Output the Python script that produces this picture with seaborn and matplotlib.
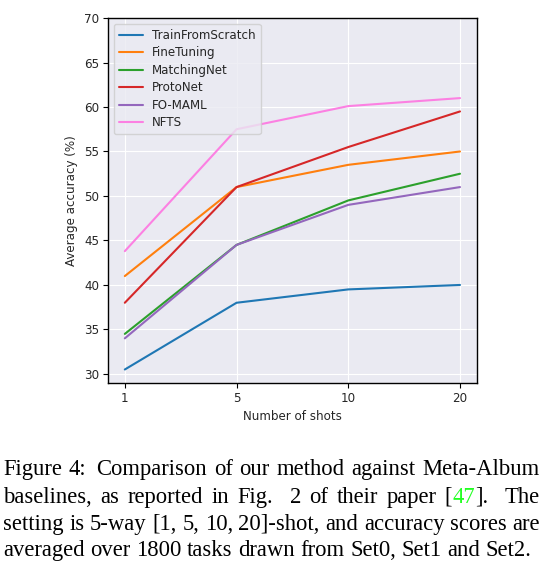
import matplotlib
matplotlib.use("Agg")
import matplotlib.pyplot as plt
import seaborn as sns
import pandas as pd

# ---------------------------------- Data ----------------------------------

shots = ["1", "5", "10", "20"]
methods = ["TrainFromScratch", "FineTuning", "MatchingNet", "ProtoNet", "FO-MAML", "NFTS"]
train_from_scratch = [30.5, 38.0, 39.5, 40.0]
fine_tuning = [41.0, 51.0, 53.5, 55.0]
matching_net = [34.5, 44.5, 49.5, 52.5]
proto_net = [38.0, 51.0, 55.5, 59.5]
fo_maml = [34.0, 44.5, 49.0, 51.0]
nfts = [43.8, 57.5, 60.1, 61.0]

series = [train_from_scratch, fine_tuning, matching_net, proto_net, fo_maml, nfts]
rows = []
for name, vals in zip(methods, series):
    for i, v in enumerate(vals):
        rows.append({"method": name, "pos": i, "acc": v})
df = pd.DataFrame(rows)

# ---------------------------------- Plot ----------------------------------

sns.set_style("darkgrid", {"axes.edgecolor": "black", "xtick.bottom": True, "ytick.left": True})
plt.rcParams["font.family"] = ["DejaVu Sans"]

fig = plt.figure(figsize=(5.43, 5.63), dpi=100)
ax = fig.add_axes([0.199, 0.320, 0.679, 0.648])

tab = sns.color_palette("tab10")
colors = [tab[0], tab[1], tab[2], tab[3], tab[4], "#fc80e2"]
sns.lineplot(data=df, x="pos", y="acc", hue="method", hue_order=methods,
             palette=colors, linewidth=1.5, ax=ax)

ax.set_xticks(range(len(shots)))
ax.set_xticklabels(shots)
ax.set_ylim(29, 70)
ax.set_yticks([30, 35, 40, 45, 50, 55, 60, 65, 70])
ax.tick_params(labelsize=8.6, length=3.5, width=0.8, color="black", pad=3)
ax.set_xlabel("Number of shots", fontsize=8.6)
ax.set_ylabel("Average accuracy (%)", fontsize=8.6)
for s in ax.spines.values():
    s.set_linewidth(1.0)
ax.legend(loc="upper left", fontsize=8.6, framealpha=0.8, labelspacing=0.38, title=None)

# ---------------------------------- Caption (justified) ----------------------------------

green = "#22ff22"
lines = [
    [[("Figure", "k")], [("4:", "k")], [("Comparison", "k")], [("of", "k")], [("our", "k")],
     [("method", "k")], [("against", "k")], [("Meta-Album", "k")]],
    [[("baselines,", "k")], [("as", "k")], [("reported", "k")], [("in", "k")], [("Fig.", "k")],
     [("2", "k")], [("of", "k")], [("their", "k")], [("paper", "k")],
     [("[", "k"), ("47", green), ("].", "k")], [("The", "k")]],
    [[("setting", "k")], [("is", "k")], [("5-way", "k")], [("[1,", "k")], [("5,", "k")],
     [("10,", "k")], [("20]-shot,", "k")], [("and", "k")], [("accuracy", "k")],
     [("scores", "k")], [("are", "k")]],
    [[("averaged", "k")], [("over", "k")], [("1800", "k")], [("tasks", "k")], [("drawn", "k")],
     [("from", "k")], [("Set0,", "k")], [("Set1", "k")], [("and", "k")], [("Set2.", "k")]],
]

W, H = 543, 563
x_left, x_right = 3, 540
baselines = [475, 503, 530, 556]
cap_font = dict(family="Liberation Serif", size=16.3)
renderer = fig.canvas.get_renderer()


def measure(s):
    t = fig.text(0, 0, s, **cap_font)
    w = t.get_window_extent(renderer).width
    t.remove()
    return w


space_w = measure("a a") - measure("aa")

for li, words in enumerate(lines):
    widths = [[measure(seg) for seg, _ in w] for w in words]
    total = sum(sum(ws) for ws in widths)
    weights = []
    for w in words[:-1]:
        last = w[-1][0][-1]
        weights.append(2.0 if last == "." else 1.4 if last == ":" else 1.0)
    if li < len(lines) - 1:
        unit = (x_right - x_left - total) / sum(weights)
    else:
        unit = space_w
    x = x_left
    y = 1 - baselines[li] / H
    for wi, w in enumerate(words):
        for (seg, col), sw in zip(w, widths[wi]):
            fig.text(x / W, y, seg, color=col, va="baseline", ha="left", **cap_font)
            x += sw
        if wi < len(weights):
            x += unit * weights[wi]

fig.savefig("out.png", dpi=100)
